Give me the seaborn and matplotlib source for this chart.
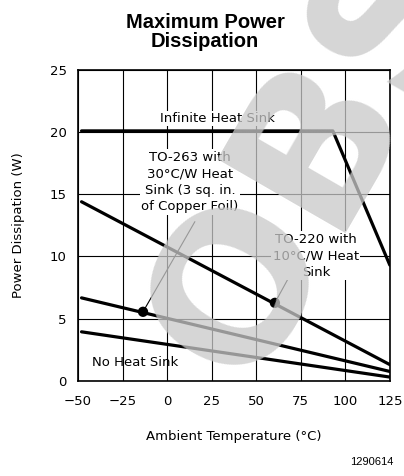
import matplotlib
matplotlib.use("Agg")
import matplotlib.pyplot as plt
import seaborn as sns
import pandas as pd

# data (x in degC, y in W)
infinite_x = [-48, 93, 125]
infinite_y = [20.1, 20.1, 9.3]
to220_x = [-48, 125]
to220_y = [14.4, 1.3]
to263_x = [-48, 125]
to263_y = [6.67, 0.75]
noheat_x = [-48, 125]
noheat_y = [3.94, 0.3]

dot_x = [-13.5, 60.5]
dot_y = [5.55, 6.27]

x_ticks = [-50, -25, 0, 25, 50, 75, 100, 125]
y_ticks = [0, 5, 10, 15, 20, 25]

sns.set_style("white")
plt.rcParams["font.family"] = ["DejaVu Sans"]
plt.rcParams["text.color"] = "black"
plt.rcParams["axes.labelcolor"] = "black"
plt.rcParams["xtick.color"] = "black"
plt.rcParams["ytick.color"] = "black"

fig = plt.figure(figsize=(4.04, 4.76), dpi=100)
ax = fig.add_axes([0.193, 0.200, 0.772, 0.653])

frames = []
for name, xs, ys in [("inf", infinite_x, infinite_y), ("to220", to220_x, to220_y),
                     ("to263", to263_x, to263_y), ("none", noheat_x, noheat_y)]:
    frames.append(pd.DataFrame({"temp": xs, "power": ys, "curve": name}))
df = pd.concat(frames, ignore_index=True)

for name, grp in df.groupby("curve", sort=False):
    sns.lineplot(data=grp, x="temp", y="power", color="black", linewidth=2.3,
                 ax=ax, sort=False, estimator=None, zorder=3)

sns.scatterplot(x=dot_x, y=dot_y, color="black", s=55, ax=ax, zorder=4,
                edgecolor="none")

# callout lines
ax.plot([dot_x[0], 15.6], [dot_y[0], 12.8], color="black", lw=0.8, zorder=4)
ax.plot([dot_x[1], 69], [dot_y[1], 8.5], color="black", lw=0.8, zorder=4)

ax.set_xlim(-50, 125)
ax.set_ylim(0, 25)
ax.set_xticks(x_ticks)
ax.set_yticks(y_ticks)
ax.grid(True, color="black", linewidth=0.8)
ax.set_axisbelow(True)
for sp in ax.spines.values():
    sp.set_color("black")
    sp.set_linewidth(1.2)
ax.tick_params(axis="x", labelsize=9.5, length=0, pad=10)
ax.tick_params(axis="y", labelsize=9.5, length=0, pad=8)
ax.set_xlabel("Ambient Temperature (\u00b0C)", fontsize=9.5, labelpad=16)
ax.set_ylabel("Power Dissipation (W)", fontsize=9.5, labelpad=18)

box = dict(facecolor="white", edgecolor="none", pad=1)
ax.text(28, 21.1, "Infinite Heat Sink", ha="center", va="center", fontsize=9.5,
        bbox=box, zorder=5)
ax.text(12.8, 16.0, "TO-263 with\n30\u00b0C/W Heat\nSink (3 sq. in.\nof Copper Foil)",
        ha="center", va="center", fontsize=9.5, linespacing=1.35, bbox=box, zorder=5)
ax.text(83.5, 10.05, "TO-220 with\n10\u00b0C/W Heat\nSink", ha="center", va="center",
        fontsize=9.5, linespacing=1.35, bbox=box, zorder=5)
ax.text(-42, 1.45, "No Heat Sink", ha="left", va="center", fontsize=9.5, zorder=5)

fig.text(0.508, 0.933, "Maximum Power\nDissipation", ha="center", va="center",
         fontsize=14.5, fontweight="bold", family="Liberation Sans", linespacing=1.05)
fig.text(0.975, 0.03, "1290614", ha="right", va="center", fontsize=8,
         family="Liberation Sans")

# watermark
fig.text(246 / 404, 88 / 476, "OBSOLETE", ha="left", va="baseline",
         rotation=60, rotation_mode="anchor", fontsize=146, fontweight="bold",
         color="0.79", alpha=0.76, zorder=10, clip_on=False)

fig.savefig("out.png", dpi=100)
